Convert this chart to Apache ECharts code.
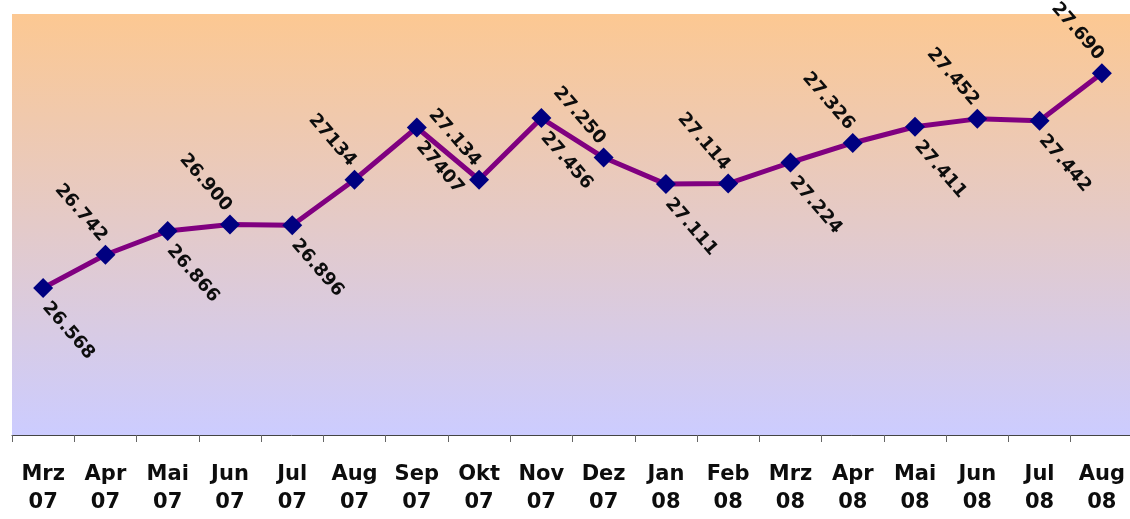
<!DOCTYPE html>
<html>
<head>
<meta charset="utf-8">
<script src="https://cdn.jsdelivr.net/npm/echarts@6/dist/echarts.min.js"></script>
<style>
  html, body { margin: 0; padding: 0; background: #ffffff; }
  #chart { width: 1130px; height: 519px; }
</style>
</head>
<body>
<div id="chart"></div>
<script>
// Monthly figures, March 2007 to August 2008
const months = ['Mrz\n07', 'Apr\n07', 'Mai\n07', 'Jun\n07', 'Jul\n07', 'Aug\n07', 'Sep\n07', 'Okt\n07', 'Nov\n07',
                'Dez\n07', 'Jan\n08', 'Feb\n08', 'Mrz\n08', 'Apr\n08', 'Mai\n08', 'Jun\n08', 'Jul\n08', 'Aug\n08'];
const values = [26.568, 26.742, 26.866, 26.900, 26.896, 27.134, 27.407, 27.134, 27.456,
                27.250, 27.111, 27.114, 27.224, 27.326, 27.411, 27.452, 27.442, 27.690];
const valueLabels = ['26.568', '26.742', '26.866', '26.900', '26.896', '27134', '27407', '27.134', '27.456',
                     '27.250', '27.111', '27.114', '27.224', '27.326', '27.411', '27.452', '27.442', '27.690'];

const labelFont = { fontFamily: 'DejaVu Sans', fontWeight: 'bold', fontSize: 18, color: '#0d0d0d' };

// labels alternate: even points get theirs below-right, odd points above-left
const seriesData = values.map((v, i) => {
  const below = i % 2 === 0;
  return {
    value: v,
    label: Object.assign({
      show: true,
      position: 'inside',
      rotate: -49,
      align: below ? 'left' : 'right',
      verticalAlign: below ? 'top' : 'bottom',
      padding: below ? [0, 0, 0, 14] : [0, 13, 0, 0],
      formatter: () => valueLabels[i]
    }, labelFont)
  };
});

const chart = echarts.init(document.getElementById('chart'), null, { renderer: 'canvas' });
chart.setOption({
  animation: false,
  backgroundColor: '#ffffff',
  grid: {
    left: 12, top: 14, width: 1121, height: 421,
    outerBoundsMode: 'none',
    show: true,
    borderWidth: 0,
    backgroundColor: new echarts.graphic.LinearGradient(0, 0, 0, 1, [
      { offset: 0, color: '#fcc892' },
      { offset: 1, color: '#ccccff' }
    ])
  },
  xAxis: {
    type: 'category',
    data: months,
    boundaryGap: true,
    axisLine: { lineStyle: { color: '#444444', width: 1 } },
    axisTick: { show: true, length: 7, lineStyle: { color: '#666666' } },
    axisLabel: {
      interval: 0,
      margin: 26,
      fontFamily: 'DejaVu Sans',
      fontWeight: 'bold',
      fontSize: 21,
      lineHeight: 28,
      color: '#0d0d0d'
    }
  },
  yAxis: {
    type: 'value',
    min: 25.8,
    max: 28.0,
    show: false,
    splitLine: { show: false }
  },
  series: [{
    type: 'line',
    data: seriesData,
    symbol: 'diamond',
    symbolSize: 20,
    itemStyle: { color: '#000080' },
    lineStyle: { color: '#800080', width: 5 },
    z: 3
  }]
});
</script>
</body>
</html>
